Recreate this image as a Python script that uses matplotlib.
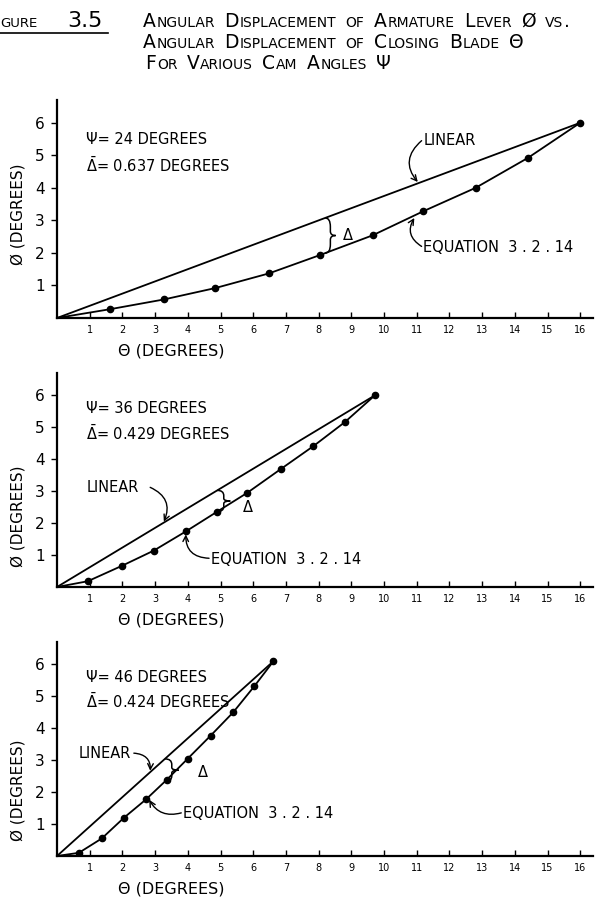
import numpy as np
import matplotlib
matplotlib.use("Agg")
import matplotlib.pyplot as plt
from matplotlib.path import Path
from matplotlib.patches import PathPatch
from matplotlib.transforms import IdentityTransform

# ---- data ----
theta_24 = [1.62, 3.27, 4.84, 6.48, 8.03, 9.65, 11.2, 12.8, 14.4, 16.0]
phi_24 = [0.27, 0.57, 0.92, 1.37, 1.93, 2.54, 3.28, 4.00, 4.92, 6.00]
linear_24 = ([0, 16.0], [0, 6.0])

theta_36 = [0.94, 2.00, 2.96, 3.94, 4.90, 5.82, 6.84, 7.84, 8.80, 9.72]
phi_36 = [0.18, 0.67, 1.14, 1.74, 2.36, 2.95, 3.69, 4.41, 5.16, 6.00]
linear_36 = ([0, 9.72], [0, 6.0])

theta_46 = [0.67, 1.37, 2.05, 2.72, 3.36, 4.00, 4.70, 5.39, 6.03, 6.62]
phi_46 = [0.10, 0.55, 1.20, 1.77, 2.39, 3.05, 3.77, 4.50, 5.31, 6.10]
linear_46 = ([0, 6.62], [0, 6.1])

cam_angles = ["24", "36", "46"]
mean_delta = ["0.637", "0.429", "0.424"]
x_ticks = list(range(1, 17))
y_ticks = list(range(1, 7))

W, H = 598, 922
fig = plt.figure(figsize=(W / 100, H / 100), dpi=100)
fig.patch.set_facecolor("white")
renderer = fig.canvas.get_renderer()


def small_caps(x, y, text, big=13.5, small=10.0):
    """Write text in small caps at pixel position (x, y from top)."""
    px = x
    yb = H - y
    space = big * 0.6
    for word in text.split(" "):
        runs = []
        for ch in word:
            low = ch.islower()
            if runs and runs[-1][0] == low:
                runs[-1][1] += ch
            else:
                runs.append([low, ch])
        for low, s in runs:
            t = fig.text(px, yb, s.upper(), fontsize=small if low else big,
                         transform=IdentityTransform(), va="baseline",
                         ha="left", color="black")
            px += t.get_window_extent(renderer).width + 1
        px += space


def brace(ax, x, y0, y1, w):
    h = y1 - y0
    m = (y0 + y1) / 2
    verts = [(x, y1), (x + w / 2, y1), (x + w / 2, y1 - 0.25 * h),
             (x + w / 2, m + 0.12 * h),
             (x + w / 2, m), (x + w, m),
             (x + w / 2, m), (x + w / 2, m - 0.12 * h),
             (x + w / 2, y0 + 0.25 * h),
             (x + w / 2, y0), (x, y0)]
    codes = [Path.MOVETO, Path.CURVE3, Path.CURVE3, Path.LINETO,
             Path.CURVE3, Path.CURVE3, Path.CURVE3, Path.CURVE3,
             Path.LINETO, Path.CURVE3, Path.CURVE3]
    ax.add_patch(PathPatch(Path(verts, codes), fill=False, lw=1.1,
                           color="black"))


# ---- title ----
fig.text(0, H - 27, "GURE", fontsize=9.5, transform=IdentityTransform(),
         va="baseline")
fig.text(67, H - 27, "3.5", fontsize=16, transform=IdentityTransform(),
         va="baseline")
fig.add_artist(plt.Line2D([0 / W, 108 / W], [1 - 33 / H, 1 - 33 / H],
                          transform=fig.transFigure, color="black", lw=1.2))
small_caps(143, 27, "Angular Displacement of Armature Lever Ø vs.")
small_caps(143, 48, "Angular Displacement of Closing Blade Θ")
small_caps(145, 69, "For Various Cam Angles Ψ")

panels = [
    dict(theta=theta_24, phi=phi_24, lin=linear_24, bottom=318, top=100,
         psi=(0.9, 5.5), dbar=(0.9, 4.7),
         brace=(8.2, 0.32), dlab=(8.75, 2.55),
         linear_txt=(11.2, 5.45, "left"), linear_tip=11.06, lin_rad=0.5,
         lin_from=(11.15, 5.45),
         eq_txt=(11.2, 2.18), eq_tip=10.95, eq_from=(11.15, 2.2), eq_rad=-0.5,
         ylab=3.2),
    dict(theta=theta_36, phi=phi_36, lin=linear_36, bottom=587, top=373,
         psi=(0.9, 5.6), dbar=(0.9, 4.8),
         brace=(4.9, 0.4), dlab=(5.7, 2.5),
         linear_txt=(0.9, 3.1, "left"), linear_tip=3.25, lin_rad=-0.5,
         lin_from=(2.85, 3.12),
         eq_txt=(4.7, 0.87), eq_tip=3.94, eq_from=(4.65, 0.9), eq_rad=-0.5,
         ylab=2.2),
    dict(theta=theta_46, phi=phi_46, lin=linear_46, bottom=856, top=642,
         psi=(0.9, 5.6), dbar=(0.9, 4.85),
         brace=(3.3, 0.42), dlab=(4.3, 2.6),
         linear_txt=(0.67, 3.2, "left"), linear_tip=2.85, lin_rad=-0.5,
         lin_from=(2.35, 3.22),
         eq_txt=(3.85, 1.33), eq_tip=2.8, eq_from=(3.8, 1.35), eq_rad=-0.4,
         ylab=2.05),
]

x_left, x_max, y_max = 57, 16.4, 6.7
px_per_x = 32.7

for p, psi, dbar in zip(panels, cam_angles, mean_delta):
    left = x_left / W
    width = x_max * px_per_x / W
    ax = fig.add_axes([left, (H - p["bottom"]) / H, width,
                       (p["bottom"] - p["top"]) / H])
    ax.set_xlim(0, x_max)
    ax.set_ylim(0, y_max)
    for s in ["top", "right"]:
        ax.spines[s].set_visible(False)
    for s in ["left", "bottom"]:
        ax.spines[s].set_linewidth(1.6)
    ax.set_xticks(x_ticks)
    ax.set_xticklabels([str(v) for v in x_ticks], fontsize=7)
    ax.set_yticks(y_ticks)
    ax.set_yticklabels([str(v) for v in y_ticks], fontsize=11)
    ax.tick_params(axis="x", direction="in", length=4, width=1, pad=5)
    ax.tick_params(axis="y", direction="out", length=4, width=1, pad=5)

    th = np.array(p["theta"])
    ph = np.array(p["phi"])
    lx, ly = p["lin"]
    ax.plot(lx, ly, color="black", lw=1.3)
    ax.plot(np.r_[0, th], np.r_[0, ph], color="black", lw=1.3)
    ax.plot(th, ph, "o", color="black", ms=4.5)

    ax.text(*p["psi"], "Ψ= %s DEGREES" % psi, fontsize=10.5, va="center")
    ax.text(*p["dbar"], r"$\bar{\Delta}$= %s DEGREES" % dbar, fontsize=10.5,
            va="center")

    bx, bw = p["brace"]
    y_top = np.interp(bx, lx, ly)
    y_bot = np.interp(bx, np.r_[0, th], np.r_[0, ph])
    brace(ax, bx, y_bot, y_top, bw)
    ax.text(*p["dlab"], "Δ", fontsize=10.5, va="center")

    tx, ty, ha = p["linear_txt"]
    ax.text(tx, ty, "LINEAR", fontsize=10.5, va="center", ha=ha)
    tip = (p["linear_tip"], np.interp(p["linear_tip"], lx, ly))
    ax.annotate("", xy=tip, xytext=p["lin_from"],
                arrowprops=dict(arrowstyle="->", lw=1.0, color="black",
                                connectionstyle="arc3,rad=%s" % p["lin_rad"],
                                shrinkA=0, shrinkB=1))

    ax.text(*p["eq_txt"], "EQUATION  3 . 2 . 14", fontsize=10.5, va="center")
    tip = (p["eq_tip"], np.interp(p["eq_tip"], np.r_[0, th], np.r_[0, ph]) - 0.05)
    ax.annotate("", xy=tip, xytext=p["eq_from"],
                arrowprops=dict(arrowstyle="->", lw=1.0, color="black",
                                connectionstyle="arc3,rad=%s" % p["eq_rad"],
                                shrinkA=0, shrinkB=1))

    ax.text(-39 / (x_max * px_per_x), p["ylab"], "Ø (DEGREES)", fontsize=11,
            rotation=90, ha="center", va="center",
            transform=ax.get_yaxis_transform())
    ax.text(3.5, -33 / (p["bottom"] - p["top"]), "Θ (DEGREES)", fontsize=11.5,
            ha="center", va="center", transform=ax.get_xaxis_transform())

fig.savefig("out.png", dpi=100, facecolor="white")
